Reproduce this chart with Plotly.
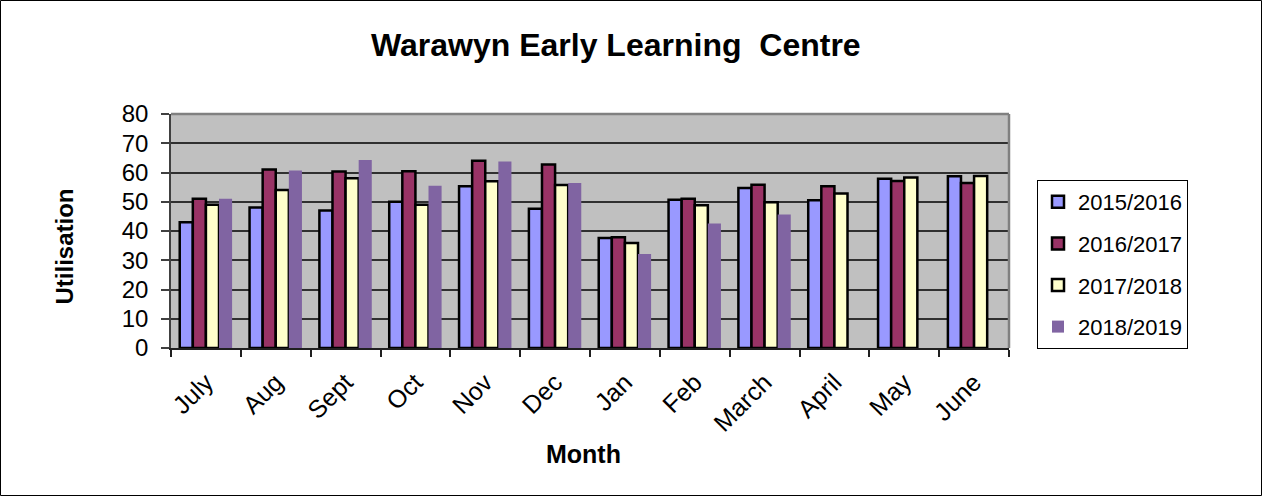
import plotly.graph_objects as go

months = ["July", "Aug", "Sept", "Oct", "Nov", "Dec", "Jan", "Feb", "March", "April", "May", "June"]
s2015 = [43, 48, 47, 50, 55.3, 47.6, 37.6, 50.7, 54.7, 50.5, 57.9, 58.7]
s2016 = [51, 61, 60.3, 60.4, 64, 62.7, 37.9, 51, 55.8, 55.3, 57.1, 56.4]
s2017 = [49, 54, 58, 49, 57, 55.7, 35.9, 48.8, 49.8, 52.8, 58.3, 58.8]
s2018 = [51, 60.7, 64.3, 55.5, 63.8, 56.4, 32.1, 42.6, 45.6, None, None, None]
names = ["2015/2016", "2016/2017", "2017/2018", "2018/2019"]
colors = ["#9999FF", "#993366", "#FFFFCC", "#8064A2"]
outlines = [2.5, 2.5, 2.5, 0]

FONT = "Liberation Sans, Arial, sans-serif"
W, H = 1263, 497
L, R, T, B = 171, 254, 114, 149
pw, ph = W - L - R, H - T - B


def px_x(x):
    return (x - L) / pw


def px_y(y):
    return (H - B - y) / ph


fig = go.Figure()
for name, vals, c, lw in zip(names, [s2015, s2016, s2017, s2018], colors, outlines):
    fig.add_trace(go.Bar(
        x=months, y=vals, name=name, legendgroup=name,
        marker=dict(color=c, line=dict(color="#000000", width=lw)),
    ))

fig.update_layout(
    template="none",
    width=W, height=H,
    margin=dict(l=L, r=R, t=T, b=B, pad=0),
    paper_bgcolor="white",
    plot_bgcolor="#C0C0C0",
    barmode="group",
    bargap=0.25,
    bargroupgap=0,
    font=dict(family=FONT, color="#000000", size=22),
    legend=dict(
        x=px_x(1037), xanchor="left",
        y=px_y(180), yanchor="top",
        bordercolor="#000000", borderwidth=1, bgcolor="white",
        font=dict(size=22, family=FONT),
        tracegroupgap=10,
        itemwidth=30,
    ),
    showlegend=True,
)

fig.update_yaxes(
    range=[0, 80], dtick=10,
    showgrid=True, gridcolor="#303030", gridwidth=1.5,
    showline=True, linecolor="#404040", linewidth=1.5,
    ticks="outside", ticklen=8, tickcolor="#404040", tickwidth=1.5,
    ticklabelstandoff=8,
    tickfont=dict(size=24, family=FONT),
    zeroline=False, automargin=False,
)
fig.update_xaxes(
    showline=True, linecolor="#202020", linewidth=1.5,
    ticks="outside", ticklen=7, tickcolor="#202020", tickwidth=1.5, tickson="boundaries",
    tickangle=-45,
    ticklabelstandoff=8,
    tickfont=dict(size=25, family=FONT),
    showgrid=False, automargin=False,
)

# top and right plot border
fig.add_shape(type="line", xref="paper", yref="paper", x0=0, x1=1, y0=1, y1=1,
              line=dict(color="#808080", width=2.5))
fig.add_shape(type="line", xref="paper", yref="paper", x0=1, x1=1, y0=0, y1=1,
              line=dict(color="#808080", width=2.5))

# outer chart frame
fig.add_shape(
    type="rect", xref="paper", yref="paper",
    x0=px_x(0.5), x1=px_x(W - 1.5),
    y0=px_y(H - 1.5), y1=px_y(0.5),
    line=dict(color="#000000", width=1), layer="below",
)

fig.add_annotation(text="<b>Warawyn Early Learning  Centre</b>", xref="paper", yref="paper",
                   x=px_x(616), y=px_y(45), xanchor="center", yanchor="middle",
                   showarrow=False, font=dict(size=32, family=FONT))
fig.add_annotation(text="<b>Utilisation</b>", xref="paper", yref="paper",
                   x=px_x(63.5), y=px_y(247), xanchor="center", yanchor="middle",
                   textangle=-90, showarrow=False, font=dict(size=24, family=FONT))
fig.add_annotation(text="<b>Month</b>", xref="paper", yref="paper",
                   x=px_x(583), y=px_y(454), xanchor="center", yanchor="middle",
                   showarrow=False, font=dict(size=25, family=FONT))

fig.write_html("out.html", config={"displayModeBar": False},
               post_script="document.body.style.margin='0px';")
